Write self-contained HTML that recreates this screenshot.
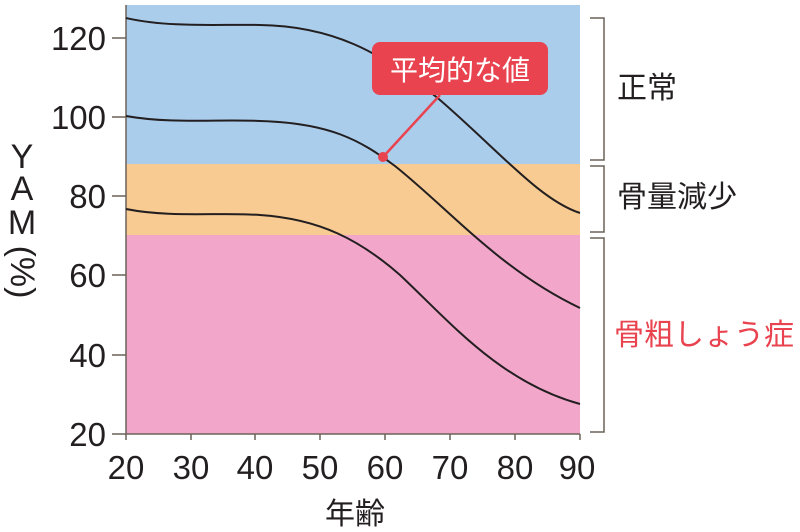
<!DOCTYPE html>
<html><head><meta charset="utf-8"><style>
body{margin:0;background:#fff}
svg{display:block;font-family:"Liberation Sans","Noto Sans CJK JP",sans-serif}
</style></head><body>
<svg width="800" height="532" viewBox="0 0 800 532">
<rect x="126" y="5" width="454" height="159" fill="#abcdec"/>
<rect x="126" y="164" width="454" height="71" fill="#f7cb92"/>
<rect x="126" y="235" width="454" height="199" fill="#f2a7ca"/>
<g stroke="#6b6258" stroke-width="1.5" fill="none">
<line x1="126" y1="5" x2="126" y2="440"/>
<line x1="112" y1="434" x2="580" y2="434"/>
<line x1="580" y1="434" x2="580" y2="440"/>
<path d="M112 38H126M112 117H126M112 196H126M112 275H126M112 355H126"/>
<path d="M191 434v6M255 434v6M320 434v6M385 434v6M450 434v6M515 434v6"/>
</g>
<g stroke="#231f20" stroke-width="2" fill="none">
<path d="M126 18 C170 28,220 24,260 25 C330 26,380 50,440 100 C500 152,540 200,580 213"/>
<path d="M126 116 C170 124,220 119,260 121 C330 123,360 140,395 166 C450 210,500 270,580 308"/>
<path d="M126 209 C170 218,220 212,260 215 C320 219,360 240,400 275 C450 322,500 382,580 404"/>
</g>
<line x1="383" y1="157" x2="440" y2="95" stroke="#e8434f" stroke-width="2.5"/>
<circle cx="383" cy="157" r="5" fill="#e8434f"/>
<rect x="372" y="42" width="176" height="53" rx="8" fill="#e8434f"/>
<text x="460" y="80" text-anchor="middle" font-size="28" fill="#fff">平均的な値</text>
<g font-size="33" fill="#231f20" text-anchor="end">
<text x="106" y="50">120</text><text x="106" y="129">100</text><text x="106" y="208">80</text>
<text x="106" y="287">60</text><text x="106" y="367">40</text><text x="106" y="446">20</text>
</g>
<g font-size="33" fill="#231f20" text-anchor="middle">
<text x="126" y="479">20</text><text x="191" y="479">30</text><text x="255" y="479">40</text>
<text x="320" y="479">50</text><text x="385" y="479">60</text><text x="450" y="479">70</text>
<text x="515" y="479">80</text><text x="577" y="479">90</text>
<text x="355" y="524" font-size="30">年齢</text>
</g>
<g font-size="34" fill="#231f20" text-anchor="middle">
<text x="22" y="168">Y</text><text x="22" y="200">A</text><text x="22" y="234">M</text>
<text x="22" y="283" transform="rotate(90 22 272)">(%)</text>
</g>
<g stroke="#6b6258" stroke-width="1.5" fill="none">
<path d="M590 18H604V160H590M590 166H604V232H590M590 238H604V432H590"/>
</g>
<text x="617" y="98" font-size="30" fill="#231f20">正常</text>
<text x="617" y="207" font-size="30" fill="#231f20">骨量減少</text>
<text x="614" y="345" font-size="30" fill="#e8434f">骨粗しょう症</text>
</svg>
</body></html>
